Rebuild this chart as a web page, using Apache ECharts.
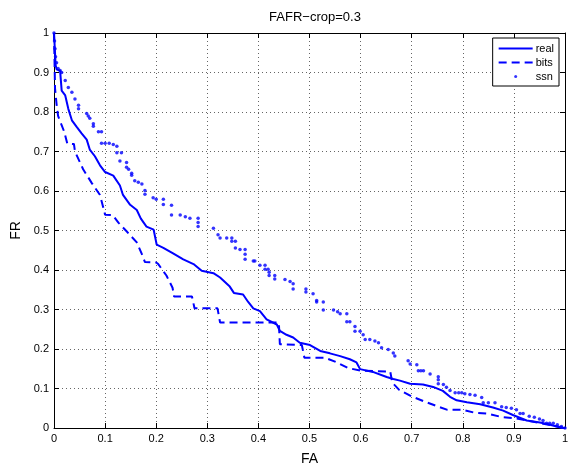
<!DOCTYPE html>
<html>
<head>
<meta charset="utf-8">
<script src="https://cdn.jsdelivr.net/npm/echarts@6/dist/echarts.min.js"></script>
<style>html,body{margin:0;padding:0;background:#fff}#c{width:573px;height:471px}</style>
</head>
<body>
<div id="c"></div>
<script>
var titleText = 'FAFR\u2212crop=0.3';
var xName = 'FA';
var yName = 'FR';
var seriesNames = ['real', 'bits', 'ssn'];
var tickLabels = ['0','0.1','0.2','0.3','0.4','0.5','0.6','0.7','0.8','0.9','1'];

var realFA = [0,0.002,0.003,0.005,0.012,0.015,0.022,0.028,0.035,0.044,0.054,0.064,0.07,0.08,0.09,0.1,0.116,0.129,0.135,0.149,0.162,0.17,0.181,0.195,0.201,0.214,0.233,0.253,0.273,0.289,0.312,0.325,0.344,0.352,0.37,0.38,0.39,0.403,0.416,0.436,0.442,0.455,0.468,0.481,0.501,0.521,0.54,0.56,0.579,0.592,0.599,0.624,0.651,0.664,0.677,0.697,0.722,0.742,0.761,0.775,0.788,0.808,0.834,0.859,0.879,0.898,0.925,0.951,0.971,0.994,1];
var realFR = [1,0.95,0.92,0.908,0.904,0.854,0.842,0.808,0.779,0.763,0.746,0.73,0.705,0.688,0.665,0.648,0.639,0.614,0.59,0.565,0.552,0.53,0.51,0.502,0.464,0.456,0.442,0.427,0.415,0.398,0.392,0.381,0.358,0.342,0.338,0.319,0.303,0.296,0.275,0.262,0.246,0.236,0.229,0.216,0.21,0.195,0.189,0.182,0.174,0.166,0.149,0.142,0.129,0.124,0.12,0.112,0.11,0.104,0.094,0.079,0.07,0.065,0.06,0.052,0.044,0.033,0.019,0.014,0.008,0,0];

var bitsFA = [0,0.002,0.005,0.008,0.02,0.026,0.039,0.041,0.057,0.074,0.09,0.096,0.1,0.115,0.126,0.142,0.162,0.172,0.178,0.2,0.204,0.22,0.232,0.235,0.27,0.275,0.32,0.325,0.44,0.442,0.485,0.49,0.53,0.55,0.575,0.6,0.658,0.662,0.675,0.7,0.725,0.75,0.77,0.8,0.822,0.85,0.875,0.9,0.93,0.96,1];
var bitsFR = [1,0.86,0.82,0.79,0.75,0.72,0.719,0.7,0.655,0.62,0.59,0.56,0.54,0.539,0.52,0.498,0.47,0.44,0.42,0.419,0.415,0.386,0.355,0.333,0.333,0.303,0.303,0.267,0.267,0.212,0.21,0.178,0.178,0.168,0.152,0.145,0.143,0.115,0.097,0.08,0.067,0.055,0.046,0.046,0.039,0.036,0.028,0.025,0.018,0.01,0];

var ssnFA = [0,0.001,0.002,0.003,0.005,0.008,0.012,0.015,0.022,0.028,0.035,0.041,0.048,0.048,0.064,0.067,0.07,0.077,0.077,0.087,0.093,0.093,0.1,0.108,0.116,0.123,0.123,0.132,0.129,0.142,0.142,0.146,0.152,0.152,0.158,0.165,0.172,0.178,0.178,0.194,0.2,0.214,0.214,0.23,0.23,0.247,0.257,0.266,0.282,0.282,0.282,0.312,0.321,0.325,0.338,0.348,0.348,0.355,0.355,0.364,0.374,0.374,0.374,0.39,0.393,0.403,0.413,0.413,0.419,0.421,0.421,0.432,0.432,0.452,0.462,0.468,0.468,0.493,0.493,0.507,0.514,0.514,0.527,0.527,0.547,0.555,0.56,0.573,0.573,0.579,0.589,0.589,0.599,0.605,0.609,0.618,0.628,0.635,0.641,0.654,0.664,0.667,0.693,0.697,0.71,0.713,0.718,0.723,0.736,0.752,0.752,0.752,0.762,0.768,0.775,0.785,0.792,0.798,0.804,0.814,0.824,0.837,0.84,0.85,0.863,0.876,0.885,0.895,0.905,0.912,0.918,0.93,0.94,0.95,0.957,0.964,0.97,0.977,0.985,0.993,1];
var ssnFR = [1,0.98,0.96,0.94,0.925,0.91,0.905,0.9,0.88,0.862,0.85,0.833,0.817,0.808,0.796,0.79,0.784,0.77,0.764,0.75,0.75,0.721,0.721,0.721,0.718,0.713,0.697,0.697,0.676,0.672,0.66,0.655,0.645,0.64,0.626,0.622,0.618,0.601,0.592,0.583,0.579,0.579,0.566,0.564,0.539,0.539,0.535,0.531,0.531,0.52,0.51,0.506,0.489,0.481,0.481,0.481,0.473,0.473,0.456,0.452,0.452,0.44,0.427,0.423,0.423,0.412,0.412,0.402,0.402,0.394,0.386,0.386,0.377,0.376,0.371,0.365,0.352,0.352,0.344,0.34,0.323,0.319,0.319,0.299,0.299,0.294,0.289,0.289,0.269,0.269,0.257,0.245,0.245,0.236,0.224,0.224,0.22,0.216,0.203,0.199,0.19,0.182,0.17,0.162,0.16,0.145,0.145,0.145,0.137,0.13,0.122,0.112,0.11,0.103,0.095,0.089,0.089,0.089,0.087,0.085,0.083,0.077,0.064,0.064,0.064,0.054,0.052,0.05,0.046,0.037,0.037,0.03,0.027,0.023,0.019,0.012,0.012,0.012,0.008,0.004,0];

function zip(a, b) { return a.map(function (v, i) { return [v, b[i]]; }); }

var FONT = '"Liberation Sans", Arial, Helvetica, sans-serif';
var BLUE = '#0000ff';
function fmt(v) { return tickLabels[Math.round(v * 10)]; }

var baseX = {
  type: 'value', min: 0, max: 1, interval: 0.1,
  axisLine: { show: true, onZero: false, lineStyle: { color: '#000', width: 1 } },
  axisTick: { show: true, inside: true, length: 5, lineStyle: { color: '#000' } }
};

var chart = echarts.init(document.getElementById('c'), null, { renderer: 'canvas' });
chart.setOption({
  backgroundColor: '#fff',
  animation: false,
  title: {
    text: titleText, left: 310, top: 6, textAlign: 'center',
    textStyle: { fontFamily: FONT, fontSize: 13, fontWeight: 'normal', color: '#000' }
  },
  grid: { left: 54, top: 33, right: 8, bottom: 36, containLabel: false },
  legend: {
    orient: 'vertical', right: 14, top: 38,
    backgroundColor: '#fff', borderColor: '#000', borderWidth: 1,
    padding: [5, 5, 4, 5], itemWidth: 34, itemHeight: 3, itemGap: 3,
    textStyle: { fontFamily: FONT, fontSize: 11, color: '#000', padding: [0, 0, 0, -2] },
    data: [
      { name: seriesNames[0], itemStyle: { opacity: 0 } },
      { name: seriesNames[1], itemStyle: { opacity: 0 } },
      { name: seriesNames[2], icon: 'circle' }
    ]
  },
  xAxis: [
    Object.assign({}, baseX, {
      position: 'bottom',
      name: xName, nameLocation: 'middle', nameGap: 24,
      nameTextStyle: { fontFamily: FONT, fontSize: 14, color: '#000' },
      axisLabel: { show: true, margin: 5, fontFamily: FONT, fontSize: 11, color: '#000', formatter: fmt },
      splitLine: { show: true, lineStyle: { color: '#666', type: [1, 3], width: 1 } }
    }),
    Object.assign({}, baseX, {
      position: 'top', axisLabel: { show: false }, splitLine: { show: false }
    })
  ],
  yAxis: [
    Object.assign({}, baseX, {
      position: 'left',
      name: yName, nameLocation: 'middle', nameGap: 26,
      nameTextStyle: { fontFamily: FONT, fontSize: 14, color: '#000' },
      axisLabel: { show: true, margin: 5, fontFamily: FONT, fontSize: 11, color: '#000', formatter: fmt },
      splitLine: { show: true, lineStyle: { color: '#666', type: [1, 3], width: 1 } }
    }),
    Object.assign({}, baseX, {
      position: 'right', axisLabel: { show: false }, splitLine: { show: false }
    })
  ],
  series: [
    {
      name: seriesNames[0], type: 'line', data: zip(realFA, realFR),
      showSymbol: false, symbol: 'none', color: BLUE,
      lineStyle: { color: BLUE, width: 2, type: 'solid' }, z: 3
    },
    {
      name: seriesNames[1], type: 'line', data: zip(bitsFA, bitsFR),
      showSymbol: false, symbol: 'none', color: BLUE,
      lineStyle: { color: BLUE, width: 2, type: [8, 5] }, z: 3
    },
    {
      name: seriesNames[2], type: 'scatter', data: zip(ssnFA, ssnFR),
      symbol: 'circle', symbolSize: 3.5, color: BLUE,
      itemStyle: { color: BLUE }, z: 4
    }
  ]
});
</script>
</body>
</html>
